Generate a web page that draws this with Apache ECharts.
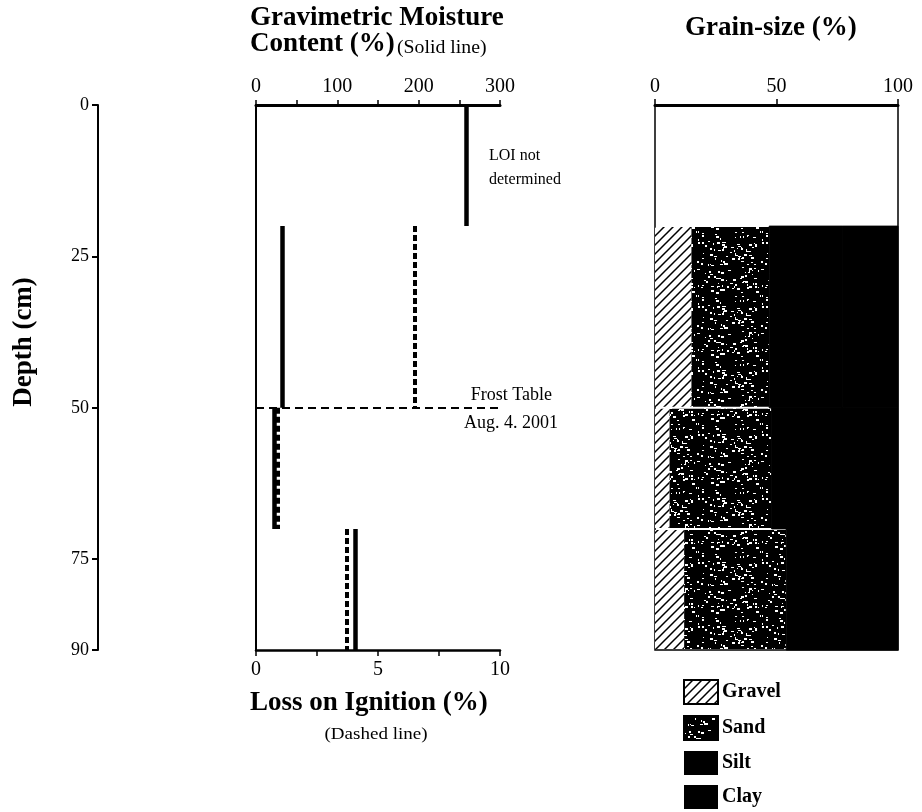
<!DOCTYPE html>
<html>
<head>
<meta charset="utf-8">
<script src="https://cdn.jsdelivr.net/npm/echarts@6/dist/echarts.min.js"></script>
<style>
html,body{margin:0;padding:0;background:#fff;}
#chart{width:922px;height:812px;}
</style>
</head>
<body>
<div id="chart"></div>
<script>
// ---- Data ----
var depthTicks = [0, 25, 50, 75, 90];
var moistureTicks = [0, 100, 200, 300];
var loiTicks = [0, 5, 10];
var grainTicks = [0, 50, 100];

// Gravimetric moisture content (%) by depth interval (solid line)
var moistTop = [0, 20, 50, 70];
var moistBottom = [20, 50, 70, 90];
var moisture = [258, 32, 22, 122];

// Loss on ignition (%) by depth interval (dashed line); first interval not determined
var loiTop = [20, 50, 70];
var loiBottom = [50, 70, 90];
var loi = [6.5, 0.9, 3.7];

// Frost table depth (cm)
var frostDepth = 50;

// Grain size (%) by depth interval
var grainTop = [20, 50, 70];
var grainBottom = [50, 70, 90];
var gravel = [15, 6, 12];
var sand = [32, 42, 42];
var silt = [30, 30, 26];
var clay = [23, 22, 20];

// ---- Patterns (texture only) ----
function hatchPattern() {
  var c = document.createElement('canvas');
  c.width = 9; c.height = 9;
  var g = c.getContext('2d');
  g.fillStyle = '#fff'; g.fillRect(0, 0, 9, 9);
  g.strokeStyle = '#000'; g.lineWidth = 1.5;
  g.beginPath();
  g.moveTo(-1, 10); g.lineTo(10, -1);
  g.moveTo(-1, 1); g.lineTo(1, -1);
  g.moveTo(8, 10); g.lineTo(10, 8);
  g.stroke();
  return c;
}
function speckPattern() {
  var c = document.createElement('canvas');
  c.width = 64; c.height = 64;
  var g = c.getContext('2d');
  g.fillStyle = '#000'; g.fillRect(0, 0, 64, 64);
  g.fillStyle = '#fff';
  var s = 12345;
  function r() { s = (s * 1103515245 + 12345) % 2147483648; return s / 2147483648; }
  for (var i = 0; i < 150; i++) {
    var x = Math.floor(r() * 64), y = Math.floor(r() * 64);
    var w = 1 + Math.floor(r() * 3), h = 1 + Math.floor(r() * 2);
    g.fillRect(x, y, w, h);
  }
  return c;
}
var hatchFill = { image: hatchPattern(), repeat: 'repeat' };
var sandFill = { image: speckPattern(), repeat: 'repeat' };

// ---- Build series data ----
function segs(tops, bottoms, vals) {
  var out = [];
  for (var i = 0; i < vals.length; i++) out.push({ coords: [[vals[i], tops[i]], [vals[i], bottoms[i]]] });
  return out;
}
function grainData(vals, prev) {
  var out = [];
  for (var i = 0; i < vals.length; i++) {
    var s = prev ? prev[i] : 0;
    out.push([grainTop[i], grainBottom[i], s, s + vals[i]]);
  }
  return out;
}
var gravelD = grainData(gravel, null);
var sandD = grainData(sand, gravelD.map(function (d) { return d[3]; }));
var siltD = grainData(silt, sandD.map(function (d) { return d[3]; }));
var clayD = grainData(clay, siltD.map(function (d) { return d[3]; }));

function rectRender(gap, fill, solid) {
  return function (params, api) {
    var p1 = api.coord([api.value(2), api.value(0)]);
    var p2 = api.coord([api.value(3), api.value(1)]);
    var st = { fill: fill };
    if (solid) { st.stroke = fill; st.lineWidth = 1; }
    return {
      type: 'rect',
      shape: { x: p1[0], y: p1[1] + gap, width: p2[0] - p1[0], height: p2[1] - p1[1] - 2 * gap },
      style: st
    };
  };
}

var serif = 'Liberation Serif';
var chart = echarts.init(document.getElementById('chart'), null, { renderer: 'canvas' });

var blk = '#000';
var option = {
  backgroundColor: '#fff',
  animation: false,
  grid: [
    { left: 98, top: 105, width: 1, height: 545 },
    { left: 256, top: 105, width: 244, height: 545 },
    { left: 655, top: 105, width: 243, height: 545, show: true, borderColor: blk, borderWidth: 1.5, backgroundColor: '#fff' }
  ],
  xAxis: [
    { gridIndex: 0, type: 'value', show: false, min: 0, max: 1 },
    {
      gridIndex: 1, type: 'value', position: 'top', min: 0, max: 300, interval: 50,
      axisLine: { show: true, lineStyle: { color: blk, width: 3 } },
      axisTick: { show: true, inside: false, length: 5, lineStyle: { color: blk, width: 1.5 } },
      axisLabel: { customValues: moistureTicks, margin: 8, color: blk, fontFamily: serif, fontSize: 20 },
      splitLine: { show: false }
    },
    {
      gridIndex: 1, type: 'value', position: 'bottom', min: 0, max: 10, interval: 2.5,
      axisLine: { show: true, lineStyle: { color: blk, width: 2.5 } },
      axisTick: { show: true, length: 6, lineStyle: { color: blk, width: 1.5 } },
      axisLabel: { customValues: loiTicks, margin: 10, color: blk, fontFamily: serif, fontSize: 20 },
      splitLine: { show: false }
    },
    {
      gridIndex: 2, type: 'value', position: 'top', min: 0, max: 100, interval: 50,
      axisLine: { show: true, lineStyle: { color: blk, width: 3 } },
      axisTick: { show: true, length: 6, lineStyle: { color: blk, width: 1.5 } },
      axisLabel: { customValues: grainTicks, margin: 8, color: blk, fontFamily: serif, fontSize: 20 },
      splitLine: { show: false }
    }
  ],
  yAxis: [
    {
      gridIndex: 0, type: 'value', inverse: true, min: 0, max: 90,
      axisLine: { show: true, lineStyle: { color: blk, width: 2 } },
      axisTick: { show: true, customValues: depthTicks, length: 6, lineStyle: { color: blk, width: 2 } },
      axisLabel: { customValues: depthTicks, margin: 9, color: blk, fontFamily: serif, fontSize: 18 },
      splitLine: { show: false }
    },
    {
      gridIndex: 1, type: 'value', inverse: true, min: 0, max: 90,
      axisLine: { show: true, lineStyle: { color: blk, width: 2 } },
      axisTick: { show: false }, axisLabel: { show: false }, splitLine: { show: false }
    },
    {
      gridIndex: 2, type: 'value', inverse: true, min: 0, max: 90,
      axisLine: { show: false },
      axisTick: { show: false }, axisLabel: { show: false }, splitLine: { show: false }
    }
  ],
  legend: {
    orient: 'vertical', left: 683, top: 679, padding: 0,
    itemWidth: 34, itemHeight: 24, itemGap: 10,
    icon: 'rect', selectedMode: false,
    data: ['Gravel', 'Sand', 'Silt', 'Clay'],
    textStyle: { fontFamily: serif, fontSize: 20, fontWeight: 'bold', color: blk, padding: [0, 0, 0, -1] }
  },
  series: [
    {
      type: 'lines', coordinateSystem: 'cartesian2d', xAxisIndex: 1, yAxisIndex: 1,
      data: [{ coords: [[0, frostDepth], [300, frostDepth]] }],
      lineStyle: { color: blk, width: 1.8, type: [8, 5], opacity: 1 }, z: 3
    },
    {
      type: 'lines', coordinateSystem: 'cartesian2d', xAxisIndex: 1, yAxisIndex: 1,
      data: segs(moistTop, moistBottom, moisture),
      lineStyle: { color: blk, width: 4.5, type: 'solid', opacity: 1 }, z: 4
    },
    {
      type: 'lines', coordinateSystem: 'cartesian2d', xAxisIndex: 2, yAxisIndex: 1,
      data: segs(loiTop, loiBottom, loi),
      lineStyle: { color: blk, width: 4, type: [6, 3], opacity: 1 }, z: 4
    },
    {
      name: 'Gravel', type: 'custom', xAxisIndex: 3, yAxisIndex: 2, encode: { x: [2, 3], y: [0, 1] },
      data: gravelD, renderItem: rectRender(1, hatchFill, false),
      itemStyle: { color: hatchFill, borderColor: blk, borderWidth: 1 }
    },
    {
      name: 'Sand', type: 'custom', xAxisIndex: 3, yAxisIndex: 2, encode: { x: [2, 3], y: [0, 1] },
      data: sandD, renderItem: rectRender(1, sandFill, false),
      itemStyle: { color: sandFill, borderColor: blk, borderWidth: 1 }
    },
    {
      name: 'Silt', type: 'custom', xAxisIndex: 3, yAxisIndex: 2, encode: { x: [2, 3], y: [0, 1] },
      data: siltD, renderItem: rectRender(0, blk, true),
      itemStyle: { color: blk }
    },
    {
      name: 'Clay', type: 'custom', xAxisIndex: 3, yAxisIndex: 2, encode: { x: [2, 3], y: [0, 1] },
      data: clayD, renderItem: rectRender(0, blk, true),
      itemStyle: { color: blk }
    }
  ],
  graphic: [
    { type: 'text', left: 250, top: 5, style: { text: 'Gravimetric Moisture', font: 'bold 27px "Liberation Serif"', fill: blk } },
    { type: 'text', left: 250, top: 31, style: { text: 'Content (%)', font: 'bold 27px "Liberation Serif"', fill: blk } },
    { type: 'text', x: 397, y: 48, scaleX: 1.1, style: { text: '(Solid line)', font: '18px "Liberation Serif"', fill: blk, align: 'left', verticalAlign: 'middle' } },
    { type: 'text', left: 685, top: 15, style: { text: 'Grain-size (%)', font: 'bold 27px "Liberation Serif"', fill: blk } },
    { type: 'text', left: 250, top: 690, style: { text: 'Loss on Ignition (%)', font: 'bold 27px "Liberation Serif"', fill: blk } },
    { type: 'text', x: 376, y: 735, scaleX: 1.12, style: { text: '(Dashed line)', font: '17px "Liberation Serif"', fill: blk, align: 'center', verticalAlign: 'middle' } },
    { type: 'text', x: 24, y: 342, rotation: Math.PI / 2, style: { text: 'Depth (cm)', font: 'bold 27px "Liberation Serif"', fill: blk, align: 'center', verticalAlign: 'middle' } },
    { type: 'text', left: 489, top: 144, style: { text: 'LOI not\ndetermined', font: '16px "Liberation Serif"', fill: blk, lineHeight: 24 } },
    { type: 'text', x: 552, y: 395, style: { text: 'Frost Table', font: '18px "Liberation Serif"', fill: blk, align: 'right', verticalAlign: 'middle' } },
    { type: 'text', x: 558, y: 423, style: { text: 'Aug. 4. 2001', font: '18px "Liberation Serif"', fill: blk, align: 'right', verticalAlign: 'middle' } }
  ]
};
chart.setOption(option);
</script>
</body>
</html>
